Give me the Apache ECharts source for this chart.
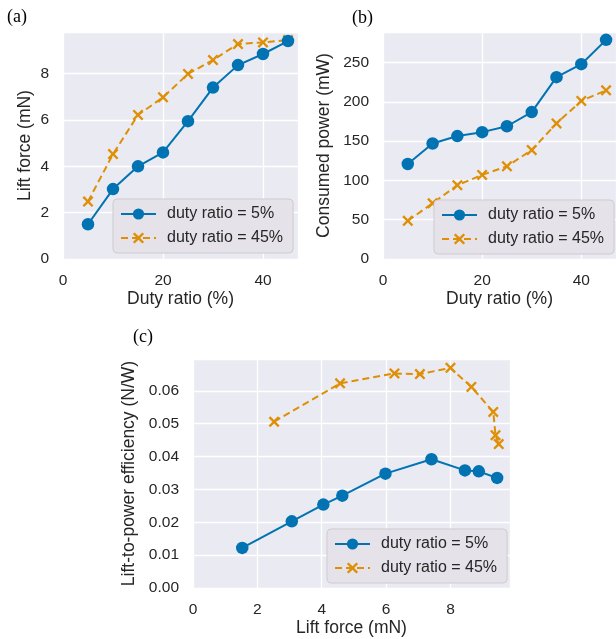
<!DOCTYPE html>
<html>
<head>
<meta charset="utf-8">
<script src="https://cdn.jsdelivr.net/npm/echarts@6/dist/echarts.min.js"></script>
<style>
  html, body { margin: 0; padding: 0; background: #fff; }
  #chart { width: 616px; height: 639px; }
</style>
</head>
<body>
<div id="chart"></div>
<script>
// duty ratio (%) on the x axis of (a) and (b)
var dutyRatio = [5, 10, 15, 20, 25, 30, 35, 40, 45];
// (a) lift force, mN
var lift5 = [1.5, 3.02, 4.0, 4.6, 5.95, 7.4, 8.37, 8.85, 9.41];
var lift45 = [2.48, 4.53, 6.22, 6.98, 7.99, 8.59, 9.28, 9.35, 9.45];
// (b) consumed power, mW
var power5 = [121, 147, 156.5, 161.5, 169, 187, 231.5, 248, 279];
var power45 = [48.6, 71, 94, 107, 118, 138.7, 172.6, 201.3, 214.8];
// (c) efficiency vs lift force
var effLift5 = [1.53, 3.07, 4.05, 4.64, 5.98, 7.41, 8.45, 8.88, 9.45];
var eff5 = [0.0122, 0.0203, 0.0254, 0.0281, 0.0348, 0.0392, 0.0358, 0.0355, 0.0335];
var effLift45 = [2.52, 4.57, 6.26, 7.05, 8.0, 8.65, 9.33, 9.4, 9.5];
var eff45 = [0.0506, 0.0623, 0.0653, 0.0651, 0.067, 0.0612, 0.0536, 0.0465, 0.0438];

var names = ['duty ratio = 5%', 'duty ratio = 45%'];
var BLUE = '#0173b2', ORANGE = '#de8f05', INK = '#262626';
var FONT = '"Liberation Sans", Arial, sans-serif';
// "x" marker, drawn as a filled shape so it keeps its thickness
var CROSS = 'path://M3,0L10,7L17,0L20,3L13,10L20,17L17,20L10,13L3,20L0,17L7,10L0,3Z';

function pairs(xs, ys){
    return xs.map(function(x, i){ return [x, ys[i]]; });
}

function axis(gridIndex, name, min, max, interval, gap, fmt){
    return {
        type: 'value', gridIndex: gridIndex, min: min, max: max, interval: interval,
        name: name, nameLocation: 'middle', nameGap: gap,
        nameTextStyle: { color: INK, fontSize: 17.5, fontFamily: FONT },
        axisLine: { show: false }, axisTick: { show: false },
        axisLabel: { color: INK, fontSize: 15.5, fontFamily: FONT, margin: 14,
                     showMaxLabel: false, formatter: fmt },
        splitLine: { lineStyle: { color: '#ffffff', width: 1.3 } }
    };
}

function blueLine(idx, data){
    return {
        name: names[0], type: 'line', xAxisIndex: idx, yAxisIndex: idx, data: data,
        symbol: 'circle', symbolSize: 12.5, color: BLUE,
        lineStyle: { color: BLUE, width: 2 }, itemStyle: { color: BLUE },
        animation: false, z: 3
    };
}
function orangeLine(idx, data){
    return {
        name: names[1], type: 'line', xAxisIndex: idx, yAxisIndex: idx, data: data,
        symbol: CROSS, symbolSize: 11, color: ORANGE,
        lineStyle: { color: ORANGE, width: 2, type: [7, 4] }, itemStyle: { color: ORANGE },
        animation: false, z: 2
    };
}

function legend(left, top){
    return {
        data: names, orient: 'vertical', left: left, top: top,
        itemWidth: 35, itemHeight: 14, itemGap: 8,
        padding: [7, 10, 7, 7],
        backgroundColor: '#e5e2e9', borderColor: '#cfcbd1', borderWidth: 1, borderRadius: 4,
        textStyle: { color: INK, fontSize: 16, fontFamily: FONT, padding: [0, 0, 0, 6] },
        selectedMode: false
    };
}

function panelLabel(text, x, y){
    return {
        type: 'text', left: x, top: y,
        style: { text: text, fill: '#000', font: '18px "Liberation Serif", "Times New Roman", serif' }
    };
}

var chart = echarts.init(document.getElementById('chart'));
chart.setOption({
    backgroundColor: '#ffffff',
    animation: false,
    grid: [
        { left: 63, top: 32, width: 235, height: 227, show: true, backgroundColor: '#eaeaf2', borderWidth: 0 },
        { left: 383, top: 32, width: 237, height: 227, show: true, backgroundColor: '#eaeaf2', borderWidth: 0 },
        { left: 193, top: 359, width: 317, height: 229, show: true, backgroundColor: '#eaeaf2', borderWidth: 0 }
    ],
    xAxis: [
        axis(0, 'Duty ratio (%)', 0, 47, 20, 31),
        axis(1, 'Duty ratio (%)', 0, 47, 20, 31),
        axis(2, 'Lift force (mN)', 0, 9.85, 2, 31)
    ],
    yAxis: [
        axis(0, 'Lift force (mN)', 0, 9.8, 2, 29),
        axis(1, 'Consumed power (mW)', 0, 289, 50, 50),
        axis(2, 'Lift-to-power efficiency (N/W)', 0, 0.0697, 0.01, 54,
             function(v){ return v.toFixed(2); })
    ],
    legend: [legend(113, 199), legend(434, 200), legend(327, 529)],
    graphic: [
        panelLabel('(a)', 7, 8),
        panelLabel('(b)', 352, 9),
        panelLabel('(c)', 133, 328)
    ],
    series: [
        blueLine(0, pairs(dutyRatio, lift5)),
        orangeLine(0, pairs(dutyRatio, lift45)),
        blueLine(1, pairs(dutyRatio, power5)),
        orangeLine(1, pairs(dutyRatio, power45)),
        blueLine(2, pairs(effLift5, eff5)),
        orangeLine(2, pairs(effLift45, eff45))
    ]
});
</script>
</body>
</html>
